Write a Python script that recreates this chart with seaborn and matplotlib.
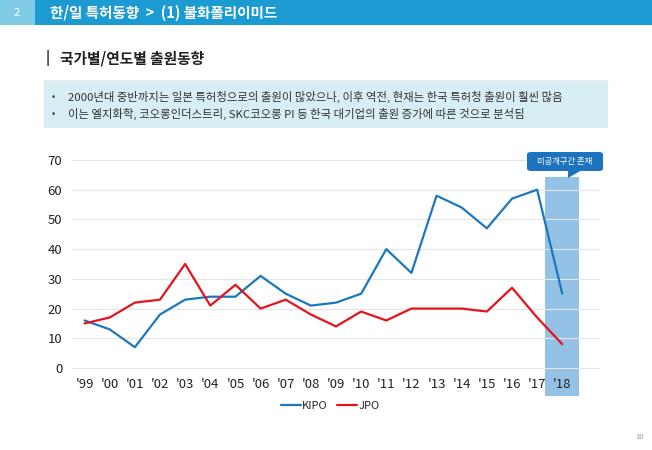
import matplotlib
matplotlib.use("Agg")
import matplotlib.pyplot as plt
import seaborn as sns
import pandas as pd
from matplotlib.patches import Rectangle, FancyBboxPatch, Polygon

years = ["'99", "'00", "'01", "'02", "'03", "'04", "'05", "'06", "'07", "'08",
         "'09", "'10", "'11", "'12", "'13", "'14", "'15", "'16", "'17", "'18"]
kipo = [16, 13, 7, 18, 23, 24, 24, 31, 25, 21, 22, 25, 40, 32, 58, 54, 47, 57, 60, 25]
jpo = [15, 17, 22, 23, 35, 21, 28, 20, 23, 18, 14, 19, 16, 20, 20, 20, 19, 27, 17, 8]
series = ["KIPO", "JPO"]
yticks = [0, 10, 20, 30, 40, 50, 60, 70]

header = "한/일 특허동향  >  (1) 불화폴리이미드"
page = "2"
subtitle = "국가별/연도별 출원동향"
bullets = ["2000년대 중반까지는 일본 특허청으로의 출원이 많았으나, 이후 역전, 현재는 한국 특허청 출원이 훨씬 많음",
           "이는 엘지화학, 코오롱인더스트리, SKC코오롱 PI 등 한국 대기업의 출원 증가에 따른 것으로 분석됨"]
callout = "미공개구간 존재"
pagenum = "10"

sns.set_theme(style="white")
plt.rcParams['font.family'] = ['Noto Sans CJK KR', 'DejaVu Sans']

W, H = 652, 450
fig = plt.figure(figsize=(W / 100, H / 100), dpi=100)
fig.patch.set_facecolor("white")

def fx(px):
    return px / W

def fy(py):
    return 1 - py / H

# header bar
fig.patches.append(Rectangle((0, fy(25)), 1, 25 / H, transform=fig.transFigure,
                             facecolor="#1b9bd1", edgecolor="none", zorder=0))
fig.patches.append(Rectangle((0, fy(25)), fx(35), 25 / H, transform=fig.transFigure,
                             facecolor="#7fcbe6", edgecolor="none", zorder=1))
fig.text(fx(17), fy(13), page, color="white", fontsize=8, ha="center", va="center")
fig.text(fx(50), fy(13), header, color="white", fontsize=10.5, fontweight="bold",
         ha="left", va="center")

# subtitle
fig.text(fx(46), fy(58), "|", color="#222222", fontsize=10, fontweight="bold",
         ha="left", va="center")
fig.text(fx(60), fy(58), subtitle, color="#222222", fontsize=10.6, fontweight="bold",
         ha="left", va="center")
fig.lines.append(plt.Line2D([fx(45), fx(608)], [fy(80), fy(80)], transform=fig.transFigure,
                            color="#eeeeee", linewidth=0.8))

# bullet box
fig.patches.append(Rectangle((fx(44), fy(128)), fx(608) - fx(44), 48 / H,
                             transform=fig.transFigure, facecolor="#d8eef5",
                             edgecolor="none", zorder=0))
for i, b in enumerate(bullets):
    yy = 97 + i * 17
    fig.text(fx(52), fy(yy), "•", color="#333333", fontsize=7, ha="left", va="center")
    fig.text(fx(68), fy(yy), b, color="#333333", fontsize=8.2, ha="left", va="center")

# shaded band (figure-level, behind the axes contents)
ppu = 208 / 70
upx = 528 / 21
cx = 72 + (19 + 0.5) * upx
fig.patches.append(Rectangle((fx(cx - 17), fy(396)), 34 / W, (396 - 177) / H,
                             transform=fig.transFigure, facecolor="#93c2e6",
                             edgecolor="none", zorder=-1))

# chart
ax = fig.add_axes([fx(72), fy(368 + ppu), 528 / W, (208 + 2 * ppu) / H])
ax.set_facecolor("none")
df = pd.DataFrame({
    "year": list(range(len(years))) * 2,
    "value": kipo + jpo,
    "series": [series[0]] * len(years) + [series[1]] * len(years),
})
sns.lineplot(data=df, x="year", y="value", hue="series",
             palette={"KIPO": "#1a78c0", "JPO": "#e5131d"}, linewidth=1.6,
             ax=ax, zorder=3, legend=False)
ax.set_xlim(-0.5, 20.5)
ax.set_ylim(-1, 71)
ax.set_yticks(yticks)
ax.set_yticklabels([str(v) for v in yticks], fontsize=9.5, color="#222222")
ax.set_xticks(range(len(years)))
ax.set_xticklabels(years, fontsize=9.5, color="#222222")
ax.tick_params(axis="x", length=0, pad=5)
ax.tick_params(axis="y", length=0, pad=7)
ax.set_xlabel("")
ax.set_ylabel("")
for s in ax.spines.values():
    s.set_visible(False)
ax.yaxis.grid(True, color="#e6e6e6", linewidth=0.8)
ax.xaxis.grid(False)
ax.set_axisbelow(True)

# callout
cb = FancyBboxPatch((fx(527), fy(171)), fx(603) - fx(527), 19 / H,
                    boxstyle="round,pad=0,rounding_size=0.006",
                    transform=fig.transFigure, facecolor="#1d73bd", edgecolor="none",
                    zorder=5)
fig.patches.append(cb)
fig.patches.append(Polygon([(fx(568), fy(170)), (fx(582), fy(170)), (fx(568), fy(178))],
                           closed=True, transform=fig.transFigure,
                           facecolor="#1d73bd", edgecolor="none", zorder=5))
fig.text(fx(565), fy(161.5), callout, color="white", fontsize=6, ha="center",
         va="center", zorder=6)

# legend
handles = [plt.Line2D([], [], color="#1a78c0", linewidth=1.6),
           plt.Line2D([], [], color="#e5131d", linewidth=1.6)]
fig.legend(handles, series, loc="center", bbox_to_anchor=(fx(330), fy(406)),
           ncol=2, frameon=False, fontsize=8, handlelength=1.8, handletextpad=0.1,
           columnspacing=0.9)

fig.text(fx(640), fy(437), pagenum, color="#999999", fontsize=5.5, ha="center", va="center")

fig.savefig("out.png", dpi=100)
